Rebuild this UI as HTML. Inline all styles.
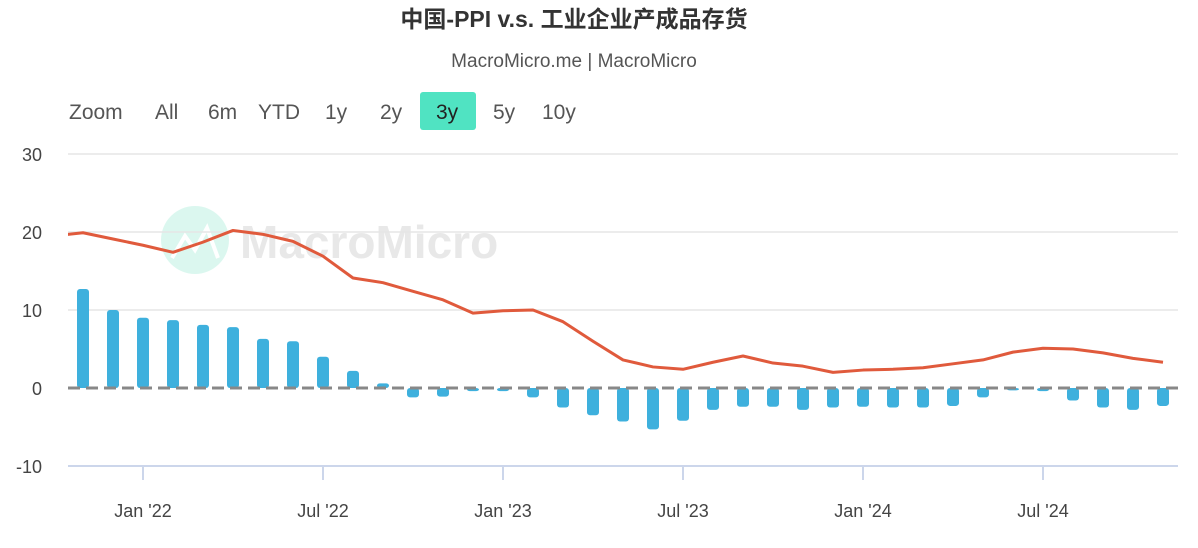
<!DOCTYPE html>
<html><head><meta charset="utf-8"><style>
body{margin:0;background:#fff;width:1198px;height:543px;overflow:hidden;font-family:"Liberation Sans","Noto Sans CJK SC",sans-serif}
</style></head><body>
<svg width="1198" height="543" id="c">
<text x="574" y="27" text-anchor="middle" font-size="23" font-weight="bold" fill="#333" font-family="Liberation Sans, Noto Sans CJK SC, sans-serif">中国-PPI v.s. 工业企业产成品存货</text>
<text x="574" y="67" text-anchor="middle" font-size="19" fill="#555">MacroMicro.me | MacroMicro</text>
<g font-size="21" fill="#555">
<text x="69" y="119">Zoom</text>
<text x="155" y="119">All</text>
<text x="208" y="119">6m</text>
<text x="258" y="119">YTD</text>
<text x="325" y="119">1y</text>
<text x="380" y="119">2y</text>
<rect x="420" y="92" width="56" height="38" rx="3" fill="#50e3c2"/>
<text x="436" y="119" fill="#222">3y</text>
<text x="493" y="119">5y</text>
<text x="542" y="119">10y</text>
</g>
<g opacity="0.9">
<circle cx="195" cy="240" r="34" fill="#d8f7ee"/>
<path d="M172 258 L185 236 L195 250 L207 228 L218 258" stroke="#fff" stroke-width="4" fill="none"/>
<text x="240" y="258" font-size="46" font-weight="bold" fill="#e6e6e6">MacroMicro</text>
</g>
<g id="grid"></g><g id="bars"></g><g id="line"></g><g id="axis"></g>
</svg>
<script>
const yTicks=[30,20,10,0,-10];
const xLabels=["Jan '22","Jul '22","Jan '23","Jul '23","Jan '24","Jul '24"];
const xLabelMonths=[2,8,14,20,26,32];
const months=["Nov21","Dec21","Jan22","Feb22","Mar22","Apr22","May22","Jun22","Jul22","Aug22","Sep22","Oct22","Nov22","Dec22","Jan23","Feb23","Mar23","Apr23","May23","Jun23","Jul23","Aug23","Sep23","Oct23","Nov23","Dec23","Jan24","Feb24","Mar24","Apr24","May24","Jun24","Jul24","Aug24","Sep24","Oct24","Nov24"];
const inventory=[12.7,10,9,8.7,8.1,7.8,6.3,6,4,2.2,0.6,-1.2,-1.1,-0.4,-0.4,-1.2,-2.5,-3.5,-4.3,-5.3,-4.2,-2.8,-2.4,-2.4,-2.8,-2.5,-2.4,-2.5,-2.5,-2.3,-1.2,-0.3,-0.4,-1.6,-2.5,-2.8,-2.3];
const ppiMonths=[-1,0,1,2,3,4,5,6,7,8,9,10,11,12,13,14,15,16,17,18,19,20,21,22,23,24,25,26,27,28,29,30,31,32,33,34,35,36];
const ppi=[19.5,19.9,19.1,18.3,17.4,18.7,20.2,19.7,18.8,16.9,14.1,13.5,12.4,11.3,9.6,9.9,10.0,8.5,6,3.6,2.7,2.4,3.3,4.1,3.2,2.8,2.0,2.3,2.4,2.6,3.1,3.6,4.6,5.1,5.0,4.5,3.8,3.3];
const L=68,R=1178;
const X=m=>83+m*30;
const Y=v=>388-v*7.8;
const NS="http://www.w3.org/2000/svg";
function mk(t,a,p){const e=document.createElementNS(NS,t);for(const k in a)e.setAttribute(k,a[k]);p.appendChild(e);return e;}
const g=document.getElementById('grid');
yTicks.forEach(v=>{
 if(v!==0&&v!==-10){const l=mk('line',{x1:L,x2:R,y1:Y(v),y2:Y(v),stroke:'#e6e6e6','stroke-width':1.5},g);
 
 }
 const t=mk('text',{x:42,y:Y(v)+7,'text-anchor':'end','font-size':18,fill:'#444'},g);t.textContent=v;
 
 
});
const b=document.getElementById('bars');
inventory.forEach((v,i)=>{
 const y0=Y(0),y1=Y(v);
 const r=mk('rect',{x:X(i)-6,y:Math.min(y0,y1),width:12,height:Math.abs(y1-y0),rx:3,fill:'#3eb0dd'},b);
 
 
});
const z=mk('line',{x1:L,x2:R,y1:Y(0),y2:Y(0),stroke:'#888','stroke-width':3,'stroke-dasharray':'12,6'},b);


const lg=document.getElementById('line');
const cp=mk('clipPath',{id:'cp'},lg);mk('rect',{x:L,y:0,width:R-L,height:543},cp);
const pts=ppi.map((v,i)=>X(ppiMonths[i])+','+Y(v)).join(' ');
const pl=mk('polyline',{points:pts,fill:'none',stroke:'#e05a3c','stroke-width':3,'stroke-linejoin':'round','clip-path':'url(#cp)'},lg);


const a=document.getElementById('axis');
const ax=mk('line',{x1:L,x2:R,y1:Y(-10),y2:Y(-10),stroke:'#ccd6eb','stroke-width':2},a);


xLabels.forEach((s,i)=>{
 const x=X(xLabelMonths[i]);
 mk('line',{x1:x,x2:x,y1:Y(-10),y2:Y(-10)+14,stroke:'#ccd6eb','stroke-width':2},a);
 const t=mk('text',{x:x,y:517,'text-anchor':'middle','font-size':18,fill:'#444'},a);t.textContent=s;
 
 
});
</script>
</body></html>
